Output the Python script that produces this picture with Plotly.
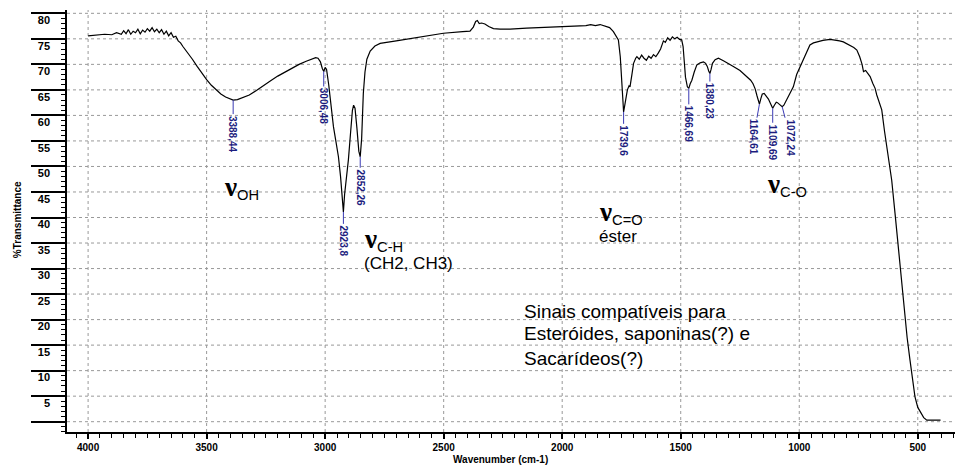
import plotly.graph_objects as go

# ---------------- data ----------------
wavenumber = [
    4000, 3960, 3930, 3900, 3880, 3860, 3850, 3840, 3830, 3820, 3810, 3800, 3790, 3780, 3770,
    3760, 3750, 3740, 3730, 3720, 3710, 3700, 3690, 3680, 3670, 3660, 3650, 3640, 3630, 3620,
    3610, 3600, 3580, 3560, 3540, 3520, 3500, 3480, 3460, 3440, 3420, 3400, 3388, 3370, 3350,
    3320, 3290, 3260, 3230, 3200, 3170, 3140, 3110, 3080, 3060, 3040, 3030, 3020, 3012, 3006,
    3000, 2994, 2985, 2975, 2965, 2955, 2944, 2935, 2928, 2923, 2918, 2910, 2902, 2893, 2885,
    2880, 2874, 2866, 2858, 2852, 2846, 2839, 2832, 2824, 2810, 2790, 2768, 2700, 2600, 2501,
    2420, 2389, 2375, 2365, 2358, 2350, 2340, 2326, 2310, 2290, 2262, 2220, 2150, 2100, 2050,
    2009, 1960, 1900, 1880, 1860, 1840, 1820, 1800, 1784, 1775, 1763, 1755, 1750, 1745, 1741,
    1736, 1730, 1725, 1718, 1714, 1706, 1699, 1690, 1685, 1675, 1665, 1655, 1645, 1635, 1625,
    1615, 1605, 1595, 1585, 1573, 1565, 1555, 1545, 1535, 1525, 1515, 1505, 1496, 1490, 1485,
    1480, 1472, 1466, 1460, 1453, 1443, 1432, 1418, 1404, 1395, 1388, 1382, 1377, 1372, 1366,
    1355, 1341, 1320, 1300, 1278, 1250, 1222, 1205, 1195, 1186, 1178, 1172, 1168, 1162, 1156,
    1148, 1140, 1130, 1120, 1112, 1105, 1097, 1092, 1085, 1078, 1072, 1065, 1055, 1045, 1039,
    1025, 1011, 997, 983, 970, 955, 940, 926, 900, 870, 850, 830, 814, 790, 770,
    757, 745, 735, 729, 720, 712, 701, 690, 680, 673, 665, 652, 640, 631, 620,
    610, 596, 585, 575, 565, 554, 545, 533, 522, 512, 500, 490, 483, 475, 462,
    404,
]
transmittance = [
    75.6, 75.7, 75.9, 75.8, 76.2, 75.9, 76.6, 76.0, 76.8, 75.9, 76.5, 76.2, 76.9, 76.0, 76.7,
    76.3, 77.0, 76.5, 77.2, 76.4, 76.9, 76.2, 76.8, 75.9, 76.5, 75.6, 76.2, 75.3, 75.5, 74.6,
    74.2, 73.5, 72.3, 71.0, 69.6, 68.2, 67.0, 65.9, 65.0, 64.2, 63.6, 63.2, 63.0, 63.1, 63.4,
    64.0, 64.9, 65.9, 66.8, 67.7, 68.5, 69.3, 70.0, 70.6, 71.0, 71.3, 71.2, 70.5, 69.2, 68.6,
    69.4, 69.0, 66.0, 61.5, 57.8, 55.0, 51.9, 48.0, 44.0, 41.1, 44.5, 47.5, 51.3, 56.5, 61.0,
    62.0, 61.4, 57.5, 53.0, 51.9, 55.5, 64.3, 68.5, 71.0, 72.6, 73.6, 74.1, 74.6, 75.4, 76.1,
    76.4, 76.5, 77.3, 78.4, 78.6, 78.0, 78.1, 77.9, 77.4, 77.0, 76.9, 76.9, 77.1, 77.2, 77.2,
    77.4, 77.5, 77.6, 77.8, 77.6, 77.8, 77.5, 77.2, 76.4, 75.8, 74.8, 71.5, 67.0, 63.0, 60.7,
    62.0, 63.8, 65.0, 65.8, 65.6, 68.0, 70.2, 71.2, 71.5, 71.0, 71.8, 71.2, 70.8, 71.6, 71.2,
    71.9, 71.5, 72.2, 73.0, 74.6, 74.3, 75.2, 74.7, 75.4, 75.0, 75.3, 74.9, 74.8, 73.5, 70.5,
    67.5, 65.6, 65.3, 66.2, 66.9, 68.5, 69.9, 70.3, 70.5, 70.2, 69.6, 68.7, 68.2, 69.0, 70.2,
    70.9, 71.2, 70.7, 70.1, 69.6, 68.8, 67.6, 66.9, 66.2, 65.2, 63.8, 62.5, 62.2, 63.3, 64.2,
    64.3, 63.8, 63.2, 62.2, 61.4, 62.0, 62.6, 62.5, 62.2, 62.0, 61.7, 62.0, 62.9, 63.9, 64.3,
    65.6, 68.0, 69.5, 70.9, 72.5, 73.8, 74.2, 74.4, 74.7, 74.9, 74.8, 74.6, 74.4, 73.8, 73.3,
    72.8, 71.5, 70.0, 68.6, 68.8, 68.3, 67.6, 66.3, 65.3, 64.0, 63.0, 61.1, 56.8, 53.9, 50.5,
    47.3, 40.8, 35.5, 30.4, 25.6, 20.6, 16.5, 12.1, 8.3, 4.9, 2.8, 2.0, 1.3, 0.8, 0.3,
    0.3,
]

# peak labels
peak_wn = [3388, 3006, 2923, 2852, 1741, 1466, 1377, 1168, 1112, 1072]
peak_t = [63.0, 68.6, 41.1, 51.9, 60.7, 65.3, 68.2, 62.2, 61.4, 61.7]
peak_text = ["3388,44", "3006,48", "2923,8", "2852,26", "1739,6", "1466,69",
             "1380,23", "1164,61", "1109,69", "1072,24"]
peak_dx = [0, 0, 0, 0, 0, 0, 0, -6, 0, 8]
peak_dy = [34, 35, 29, 31, 29, 36, 28, 33, 34, 31]

# axis ticks / grid
x_tick_step = 500
x_minor_step = 50
y_tick_step = 5
y_minor_step = 1
x_grid = [4000, 3500, 3000, 2500, 2000, 1500, 1000, 500]
y_grid = [0, 5, 10, 15, 20, 25, 30, 35, 40, 45, 50, 55, 60, 65, 70, 75, 80]

# band annotations (text, wavenumber of left edge, transmittance)
nu_font = "font-size:27px;font-family:'Liberation Serif', 'DejaVu Serif', serif"
band_text = [
    f'<span style="{nu_font}"><b>ν</b></span><sub>OH</sub>',
    f'<span style="{nu_font}"><b>ν</b></span><sub>C-H</sub>',
    f'<span style="{nu_font}"><b>ν</b></span><sub>C=O</sub>',
    f'<span style="{nu_font}"><b>ν</b></span><sub>C-O</sub>',
]
band_wn = [3435, 2844, 1853, 1144]
band_t = [45.8, 35.6, 40.9, 46.4]

plain_text = ["(CH2, CH3)", "éster", "Sinais compatíveis para",
              "Esteróides, saponinas(?) e", "Sacarídeos(?)"]
plain_wn = [2844, 1853, 2168, 2168, 2168]
plain_t = [31.0, 36.2, 21.6, 17.2, 12.3]
plain_size = [17, 17, 19, 19, 19]

# ---------------- figure ----------------
FONT = "Arial, 'Liberation Sans', sans-serif"
NAVY = "#1c1c7e"
GRIDC = "#999999"

fig = go.Figure()
fig.add_trace(go.Scatter(x=wavenumber, y=transmittance, mode="lines",
                         line=dict(color="black", width=1.2), hoverinfo="skip",
                         showlegend=False))

fig.update_layout(
    width=955, height=466,
    margin=dict(l=67, r=0, t=10, b=34),
    paper_bgcolor="white", plot_bgcolor="rgba(0,0,0,0)",
    showlegend=False,
    xaxis=dict(range=[4089, 343], tick0=0, dtick=x_tick_step,
               ticks="outside", ticklen=5, tickwidth=1.5, tickcolor="black",
               showline=True, linewidth=1.5, linecolor="black", zeroline=False,
               minor=dict(dtick=x_minor_step, tick0=0, ticks="outside", ticklen=4,
                          tickwidth=1, tickcolor="black", showgrid=False),
               tickfont=dict(family=FONT, size=10, color="black", weight="bold"),
               showgrid=False),
    yaxis=dict(range=[-2.02, 80.65], tick0=0, dtick=y_tick_step,
               labelalias={"0": " "},
               ticks="outside", ticklen=34, tickwidth=1.5, tickcolor="black",
               showline=True, linewidth=1.5, linecolor="black", zeroline=False,
               ticklabelstandoff=-21, ticklabelshift=7,
               minor=dict(dtick=y_minor_step, tick0=0, ticks="outside", ticklen=4,
                          tickwidth=1, tickcolor="black", showgrid=False),
               tickfont=dict(family=FONT, size=11, color="black", weight="bold"),
               showgrid=False),
)

# dotted grid (drawn from the tick arrays)
shapes = []
for v in x_grid:
    shapes.append(dict(type="line", xref="x", yref="paper", x0=v, x1=v, y0=0, y1=1,
                       line=dict(color=GRIDC, width=1, dash="dot"), layer="below"))
for v in y_grid:
    shapes.append(dict(type="line", xref="paper", yref="y", x0=0, x1=1, y0=v, y1=v,
                       line=dict(color=GRIDC, width=1, dash="dot"), layer="below"))
fig.update_layout(shapes=shapes)

ann = []
for wn, t, txt, dx, dy in zip(peak_wn, peak_t, peak_text, peak_dx, peak_dy):
    ann.append(dict(x=wn, y=t, xref="x", yref="y", text=txt, textangle=90,
                    showarrow=True, arrowhead=0, arrowwidth=1, arrowcolor="#3a3ab4",
                    ax=dx, ay=dy, standoff=0, startstandoff=0,
                    font=dict(family=FONT, size=10, color=NAVY, weight="bold")))
for wn, t, txt in zip(band_wn, band_t, band_text):
    ann.append(dict(x=wn, y=t, xref="x", yref="y", text=txt, showarrow=False,
                    xanchor="left", yanchor="middle",
                    font=dict(family=FONT, size=21, color="black")))
for wn, t, txt, sz in zip(plain_wn, plain_t, plain_text, plain_size):
    ann.append(dict(x=wn, y=t, xref="x", yref="y", text=txt, showarrow=False,
                    xanchor="left", yanchor="middle",
                    font=dict(family=FONT, size=sz, color="black")))
ann.append(dict(x=0.488, y=-0.064, xref="paper", yref="paper",
                text="Wavenumber (cm-1)", showarrow=False,
                xanchor="center", yanchor="middle",
                font=dict(family=FONT, size=10, color="black", weight="bold")))
ann.append(dict(x=-0.0563, y=0.502, xref="paper", yref="paper",
                text="%Transmittance", textangle=-90, showarrow=False,
                xanchor="center", yanchor="middle",
                font=dict(family=FONT, size=10, color="black", weight="bold")))
fig.update_layout(annotations=ann)

fig.write_html("out.html")
